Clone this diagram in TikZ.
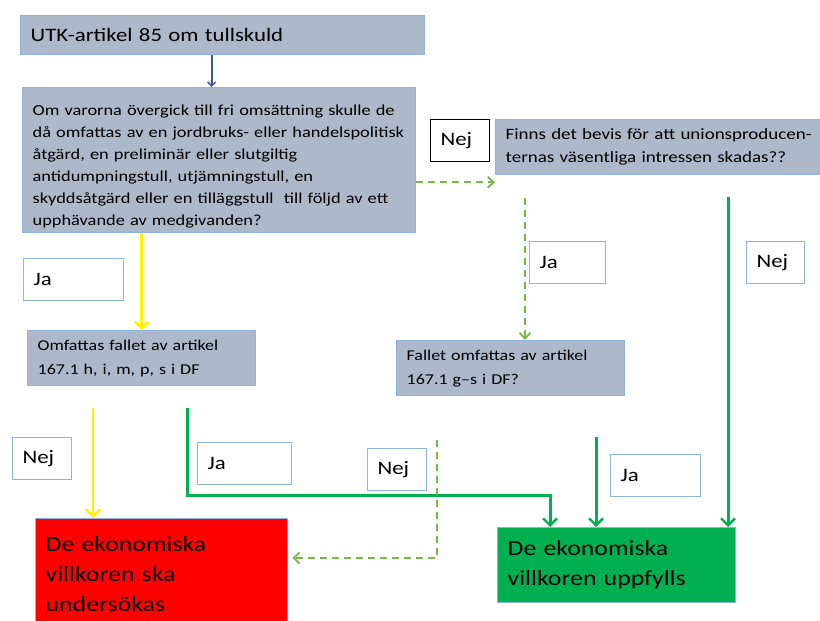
\documentclass[tikz,border=0pt]{standalone}
\usepackage{fontspec}
\setmainfont[FakeStretch=1.2]{Carlito}
\usepackage{tikz}
\usetikzlibrary{arrows.meta}
\usetikzlibrary{positioning}

\definecolor{boxgray}{HTML}{ADB8CA}
\definecolor{boxedge}{HTML}{8DB3E2}
\definecolor{okgreen}{HTML}{00B050}
\definecolor{dashgreen}{HTML}{77B84A}
\definecolor{navyline}{HTML}{3F5A8C}

\begin{document}
\begin{tikzpicture}[
    x=1pt, y=-1pt,
    qbox/.style  = {draw=boxedge, fill=boxgray, line width=1.3pt,
                    anchor=north west, align=left, inner xsep=10pt,
                    font=\fontsize{15.3}{22}\selectfont},
    lbl/.style   = {draw=boxedge, fill=white, line width=1.2pt,
                    anchor=north west, align=left, inner xsep=10pt,
                    minimum height=42pt, font=\fontsize{19}{22}\selectfont},
    endbox/.style= {draw=boxedge, line width=1.3pt, anchor=north west,
                    align=left, inner xsep=10pt,
                    font=\fontsize{21.5}{30}\selectfont},
    yes/.style   = {draw=okgreen, line width=3pt,
                    -{Straight Barb[length=7pt,width=14pt,line width=2.4pt]}},
    maybe/.style = {draw=dashgreen, line width=2pt, dash pattern=on 7pt off 5pt,
                    -{Straight Barb[length=6pt,width=11pt,line width=1.8pt]}},
    sun/.style   = {draw=yellow, line width=2.8pt,
                    -{Straight Barb[length=7pt,width=14pt,line width=2.4pt]}}]
\useasboundingbox (0,0) rectangle (820,621);

% questions
\node[qbox, text width=384pt, minimum height=39pt,
      font=\fontsize{19}{22}\selectfont] (utk) at (20,15)
      {UTK-artikel 85 om tullskuld};
\node[qbox, text width=373pt, minimum height=145pt] (varor) at (22,87)
      {\rule{0pt}{23pt}Om varorna övergick till fri omsättning skulle de\\
       då omfattas av en jordbruks- eller handelspolitisk\\
       åtgärd, en preliminär eller slutgiltig\\
       antidumpningstull, utjämningstull, en\\
       skyddsåtgärd eller en tilläggstull \ till följd av ett\\
       upphävande av medgivanden?};
\node[qbox, text width=320pt, minimum height=55pt,
      font=\fontsize{15.8}{23}\selectfont] (bevis) at (495,119)
      {Finns det bevis för att unionsproducen-\\
       ternas väsentliga intressen skadas??};
\node[qbox, text width=208pt, minimum height=55pt,
      font=\fontsize{15}{24}\selectfont] (omf) at (27,330)
      {Omfattas fallet av artikel\\167.1 h, i, m, p, s i DF};
\node[qbox, text width=208pt, minimum height=55pt,
      font=\fontsize{15}{24}\selectfont] (fallet) at (396,340)
      {Fallet omfattas av artikel\\167.1 g–s i DF?};

% outcomes
\node[endbox, fill=red, text width=232pt, minimum height=141pt,
      inner ysep=5pt] (utred) at (35,518)
      {De ekonomiska\\villkoren ska\\undersökas\\ \ };
\node[endbox, fill=okgreen, text width=218pt, minimum height=75pt]
      (uppf) at (497,527) {De ekonomiska\\villkoren uppfylls};

% answer labels
\node[lbl, draw=black, text width=39pt] (nej1) at (430,119) {Nej};
\node[lbl, text width=80pt]  (ja1)  at (23,258)  {Ja};
\node[lbl, text width=56pt]  (ja2)  at (529,241) {Ja};
\node[lbl, text width=38pt]  (nej2) at (746,241) {Nej};
\node[lbl, text width=39pt]  (nej3) at (12,437)  {Nej};
\node[lbl, text width=74pt]  (ja3)  at (197,442) {Ja};
\node[lbl, text width=39pt]  (nej4) at (367,448) {Nej};
\node[lbl, text width=70pt]  (ja4)  at (610,454) {Ja};

% loose ends
\coordinate (b1) at (525,198);
\coordinate (b2) at (728,197);
\coordinate (o1) at (93,408);
\coordinate (o2) at (187,408);
\coordinate (o3) at (550,495);
\coordinate (f1) at (437,440);
\coordinate (f2) at (596,437);
\coordinate (nejin) at ([yshift=-7pt]bevis.south west);

% connectors
\draw[navyline, line width=1.8pt,
      -{Straight Barb[length=4pt,width=8pt,line width=1.5pt]}]
      ([xshift=-11pt]utk.south) -- ([xshift=-11pt]utk.south |- varor.north);
\draw[sun]   (omf.north |- varor.south) -- (omf.north);
\draw[maybe] (varor.east |- nejin) -- (nejin);
\draw[maybe] (b1) -- (b1 |- fallet.north);
\draw[yes]   (b2) -- (b2 |- uppf.north);
\draw[sun]   (o1) -- (o1 |- utred.north);
\draw[yes]   (o2) |- (o3) -- (o3 |- uppf.north);
\draw[maybe] (f1) |- ([xshift=4pt]utred.east |- 0,558);
\draw[yes]   (f2) -- (f2 |- uppf.north);
\end{tikzpicture}
\end{document}
